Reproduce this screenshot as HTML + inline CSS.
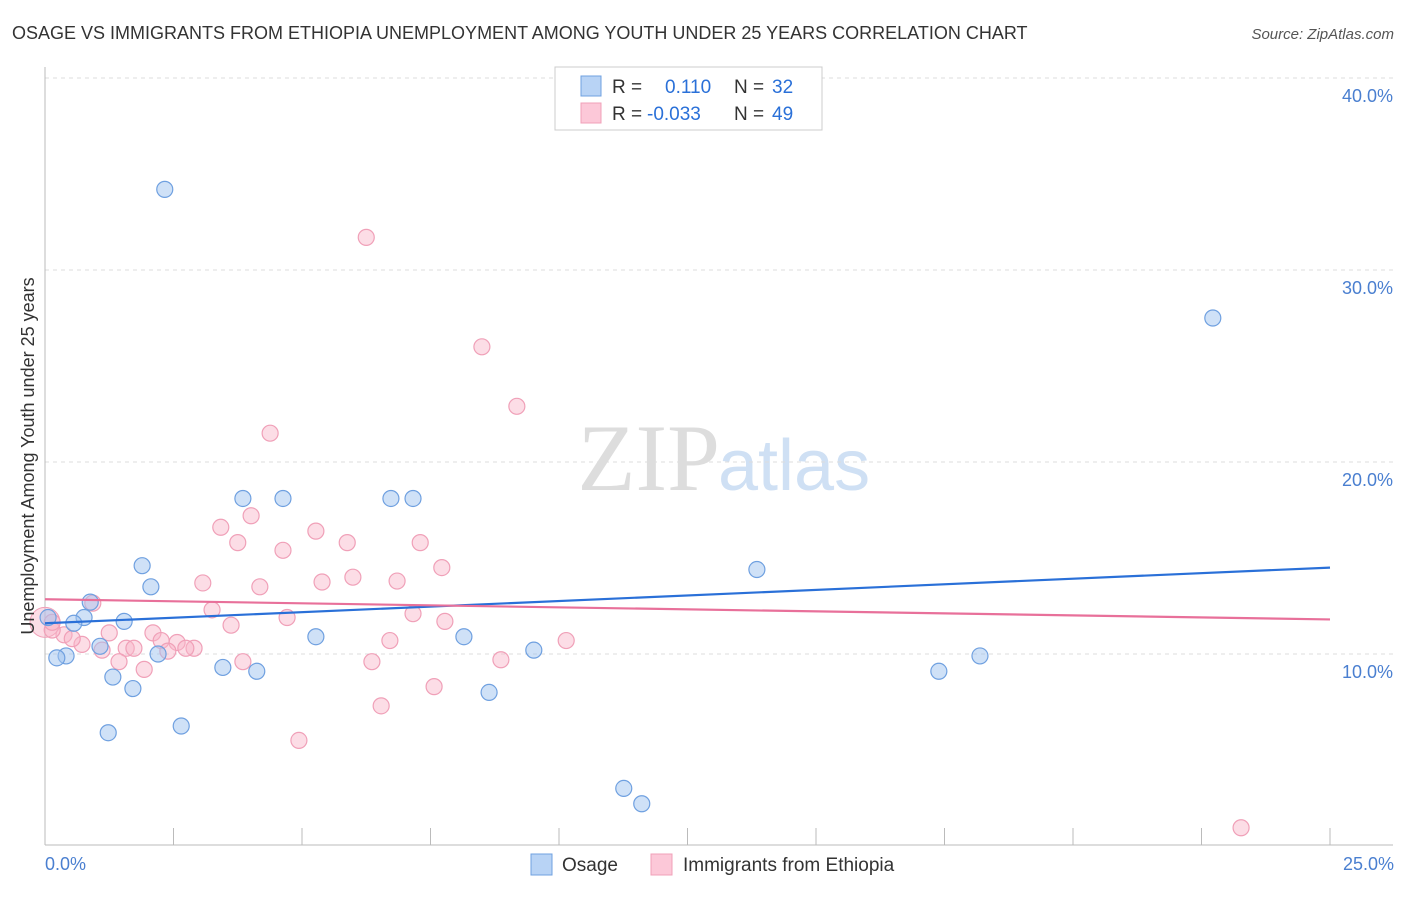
<!DOCTYPE html>
<html><head><meta charset="utf-8"><style>
body{margin:0;background:#fff;font-family:"Liberation Sans",sans-serif}
</style></head><body>
<svg width="1406" height="892" xmlns="http://www.w3.org/2000/svg">
<text x="12" y="39" font-size="18" fill="#333">OSAGE VS IMMIGRANTS FROM ETHIOPIA UNEMPLOYMENT AMONG YOUTH UNDER 25 YEARS CORRELATION CHART</text>
<text x="1394" y="39" font-size="15" fill="#555" font-style="italic" text-anchor="end">Source: ZipAtlas.com</text>
<text x="720" y="490" font-size="95" fill="#ddd" text-anchor="end" font-family="Liberation Serif,serif">ZIP</text>
<text x="718" y="490" font-size="72" fill="#cfe0f4">atlas</text>
<g id="grid"></g><g id="axes"></g><g id="pts"></g><g id="lines"></g>
<text transform="translate(34,456) rotate(-90)" font-size="18" fill="#333" text-anchor="middle">Unemployment Among Youth under 25 years</text>
<text x="45" y="870" font-size="18" fill="#4a7fd0">0.0%</text>
<text x="1394" y="870" font-size="18" fill="#4a7fd0" text-anchor="end">25.0%</text>
<g>
<rect x="555" y="67" width="267" height="63" fill="#fff" stroke="#ccc"/>
<rect x="581" y="76" width="20" height="20" fill="#b8d3f5" stroke="#6fa0e0"/>
<rect x="581" y="103" width="20" height="20" fill="#fcc8d8" stroke="#f0a0b8"/>
<text x="612" y="93" font-size="19" fill="#333">R =</text><text x="665" y="93" font-size="19" fill="#2a70d8">0.110</text>
<text x="734" y="93" font-size="19" fill="#333">N =</text><text x="772" y="93" font-size="19" fill="#2a70d8">32</text>
<text x="612" y="120" font-size="19" fill="#333">R =</text><text x="647" y="120" font-size="19" fill="#2a70d8">-0.033</text>
<text x="734" y="120" font-size="19" fill="#333">N =</text><text x="772" y="120" font-size="19" fill="#2a70d8">49</text>
</g>
<g>
<rect x="531" y="854" width="21" height="21" fill="#b8d3f5" stroke="#6fa0e0"/>
<text x="562" y="871" font-size="19" fill="#333">Osage</text>
<rect x="651" y="854" width="21" height="21" fill="#fcc8d8" stroke="#f0a0b8"/>
<text x="683" y="871" font-size="19" fill="#333">Immigrants from Ethiopia</text>
</g>
</svg>
<script>
const yTicks=[10,20,30,40];
const yTickLabels=["10.0%","20.0%","30.0%","40.0%"];
const osageX=[2.33,22.72,3.85,4.63,6.73,7.16,1.89,2.06,13.85,0.88,1.54,0.76,0.56,0.06,5.27,8.15,9.51,0.41,0.23,1.07,2.2,3.46,4.12,1.32,1.71,8.64,17.39,18.19,1.23,2.65,11.26,11.61];
const osageY=[34.2,27.5,18.1,18.1,18.1,18.1,14.6,13.5,14.4,12.7,11.7,11.9,11.6,11.9,10.9,10.9,10.2,9.9,9.8,10.4,10.0,9.3,9.1,8.8,8.2,8.0,9.1,9.9,5.9,6.25,3.0,2.2];
const ethX=[6.25,8.5,9.18,4.38,3.42,4.01,3.75,4.63,5.27,5.88,7.3,7.72,5.99,6.85,5.39,3.07,4.18,0.93,3.25,4.71,3.62,7.16,7.78,2.1,1.25,2.26,2.57,2.9,2.74,2.39,1.58,1.73,1.11,0.72,0.37,0.14,3.85,1.44,1.93,6.36,6.71,8.87,10.14,7.57,6.54,4.94,23.27,0.14,0.53];
const ethY=[31.7,26.0,22.9,21.5,16.6,17.2,15.8,15.4,16.4,15.8,15.8,14.5,14.0,13.8,13.75,13.7,13.5,12.65,12.3,11.9,11.5,12.1,11.7,11.1,11.1,10.7,10.6,10.3,10.3,10.15,10.3,10.3,10.2,10.5,11.0,11.25,9.6,9.6,9.2,9.6,10.7,9.7,10.7,8.3,7.3,5.5,0.95,11.65,10.8];
const osageTrend=[11.6,14.5];
const ethTrend=[12.85,11.8];
const X0=45,X1=1330,Y0=846,PY=19.2;
const sx=v=>X0+(X1-X0)*v/25, sy=v=>Y0-v*PY;
const NS="http://www.w3.org/2000/svg";
function mk(tag,attrs,parent){const e=document.createElementNS(NS,tag);for(const k in attrs)e.setAttribute(k,attrs[k]);document.getElementById(parent).appendChild(e);return e;}
yTicks.forEach((t,i)=>{
 const l=mk('line',{x1:45,x2:1393,y1:sy(t),y2:sy(t),stroke:'#ddd','stroke-dasharray':'4,4'},'grid');
 
 
 const tx=mk('text',{x:1393,y:sy(t)+24,'font-size':18,fill:'#4a7fd0','text-anchor':'end'},'grid');
 tx.textContent=yTickLabels[i];
 
 
});
const ax=mk('line',{x1:45,x2:1393,y1:845,y2:845,stroke:'#bbb'},'axes');


const ay=mk('line',{x1:45,x2:45,y1:67,y2:845,stroke:'#bbb'},'axes');


for(let i=1;i<=10;i++){
 const t=mk('line',{x1:sx(i*2.5),x2:sx(i*2.5),y1:828,y2:845,stroke:'#bbb'},'axes');
 
 
}
const big=mk('circle',{cx:sx(0),cy:sy(11.65),r:15,fill:'rgba(248,180,200,0.45)',stroke:'#f0a0b8'},'pts');


ethX.forEach((x,i)=>{
 const c=mk('circle',{cx:sx(x),cy:sy(ethY[i]),r:8,fill:'rgba(248,180,200,0.45)',stroke:'#f0a0b8','stroke-width':1.2},'pts');
 
 
});
osageX.forEach((x,i)=>{
 const c=mk('circle',{cx:sx(x),cy:sy(osageY[i]),r:8,fill:'rgba(160,196,240,0.5)',stroke:'#6fa0e0','stroke-width':1.2},'pts');
 
 
});
const l1=mk('line',{x1:sx(0),x2:sx(25),y1:sy(osageTrend[0]),y2:sy(osageTrend[1]),stroke:'#2a70d8','stroke-width':2.2},'lines');


const l2=mk('line',{x1:sx(0),x2:sx(25),y1:sy(ethTrend[0]),y2:sy(ethTrend[1]),stroke:'#e8709a','stroke-width':2.2},'lines');


</script>
</body></html>
